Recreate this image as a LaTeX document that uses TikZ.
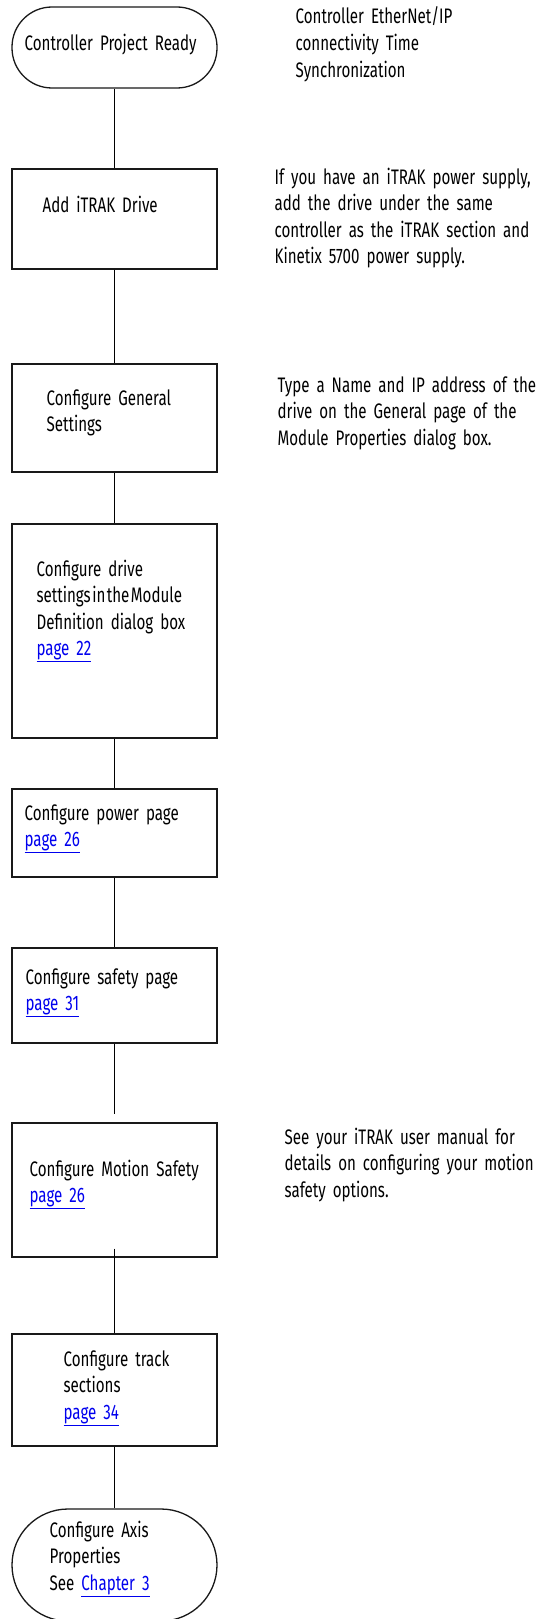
\documentclass[tikz,border=0pt]{standalone}
\usepackage{fontspec}
\setmainfont[FakeStretch=0.72]{Fira Sans}
\definecolor{linkblue}{RGB}{0,0,238}
\newcommand{\pglink}[1]{\textcolor{linkblue}{\underline{#1}}}
\newcommand{\notefont}{\fontsize{21}{26.6}\selectfont\spaceskip=3.6pt plus 1pt\relax}
\begin{document}
\begin{tikzpicture}[x=1pt,y=-1pt,line width=1.3pt,
				box/.style={draw=black!90,minimum width=205pt,inner sep=0pt},
				term/.style={box,rounded corners=40pt},
				txt/.style={anchor=base west,inner sep=0pt,text width=#1,align=left,
					font=\notefont},
				txt/.default=185pt]
\useasboundingbox (0,0) rectangle (549,1619);
% flow boxes
\node[term,minimum height=81pt] (ready) at (114.5,47.5) {};
\node[box,minimum height=100pt] (drive) at (114.5,219) {};
\node[box,minimum height=108pt] (general) at (114.5,418) {};
\node[box,minimum height=214pt] (definition) at (114.5,631) {};
\node[box,minimum height=88pt] (power) at (114.5,833) {};
\node[box,minimum height=95pt] (safety) at (114.5,995.5) {};
\node[box,minimum height=134pt] (motion) at (114.5,1190) {};
\node[box,minimum height=112pt] (track) at (114.5,1390) {};
\node[term,minimum height=112pt,rounded corners=56pt] (axis) at (114.5,1565) {};
% connectors
\draw (ready) -- (drive);
\draw (drive) -- (general);
\draw (general) -- (definition);
\draw (definition) -- (power);
\draw (power) -- (safety);
\draw[shorten >=8pt] (safety) -- (motion);
\draw[shorten <=-9pt] (motion) -- (track);
\draw (track) -- (axis);
% box texts
\node[txt] (ready-t) at (24,51) {Controller Project Ready};
\node[txt] (drive-t) at (42,212) {Add iTRAK Drive};
\node[txt] (general-t) at (46,405) {Configure General\\Settings};
\node[txt] (definition-t) at (36,576) {Configure drive\\{\spaceskip=1.5pt settings in the Module}\\Definition dialog box\\\pglink{page 22}};
\node[txt] (power-t) at (24,820) {Configure power page\\\pglink{page 26}};
\node[txt] (safety-t) at (25,984) {Configure safety page\\\pglink{page 31}};
\node[txt] (motion-t) at (29,1176) {Configure Motion Safety\\\pglink{page 26}};
\node[txt] (track-t) at (63,1366) {Configure track\\sections\\\pglink{page 34}};
\node[txt] (axis-t) at (49,1537) {Configure Axis\\Properties\\See \pglink{Chapter 3}};
% side notes
\node[txt=260pt] (ready-n) at (295,24) {Controller EtherNet/IP\\connectivity Time\\Synchronization};
\node[txt=280pt] (drive-n) at (274,184) {If you have an iTRAK power supply,\\add the drive under the same\\controller as the iTRAK section and\\Kinetix 5700 power supply.};
\node[txt=280pt] (general-n) at (277,392) {Type a Name and IP address of the\\drive on the General page of the\\Module Properties dialog box.};
\node[txt=280pt] (motion-n) at (284,1144) {See your iTRAK user manual for\\details on configuring your motion\\safety options.};
\end{tikzpicture}
\end{document}
